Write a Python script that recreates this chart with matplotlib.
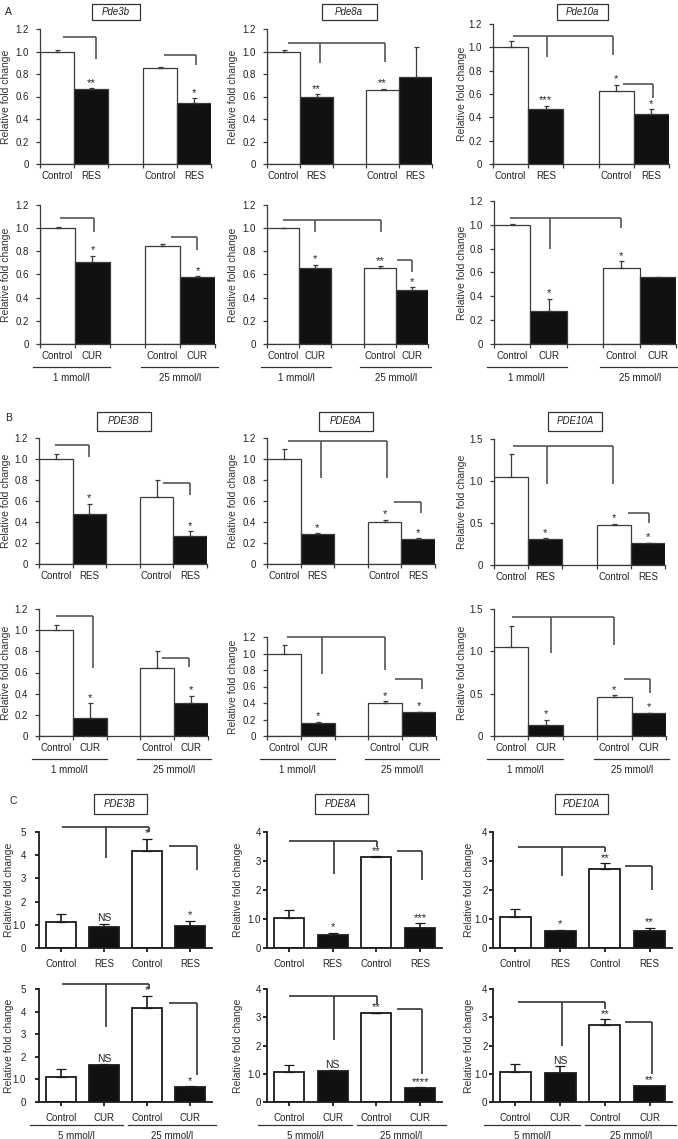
import matplotlib
matplotlib.use('Agg')
import numpy as np
import matplotlib.pyplot as plt
import matplotlib.transforms as mtransforms
from matplotlib.patches import Rectangle

plt.rcParams['font.family'] = ['Liberation Sans', 'DejaVu Sans']

W, H = 678, 1139
fig = plt.figure(figsize=(W/100, H/100), dpi=100)

# ---------------- data ----------------
GENES_A = ['Pde3b', 'Pde8a', 'Pde10a']
GENES_BC = ['PDE3B', 'PDE8A', 'PDE10A']

A_RES_MEAN = [[1.0, 0.67, 0.85, 0.54], [1.0, 0.60, 0.66, 0.77], [1.0, 0.47, 0.63, 0.43]]
A_RES_ERR = [[0.01, 0.005, 0.01, 0.045], [0.01, 0.02, 0.01, 0.27], [0.055, 0.03, 0.05, 0.04]]
A_RES_STARS = [['', '**', '', '*'], ['', '**', '**', ''], ['', '***', '*', '*']]
A_CUR_MEAN = [[1.0, 0.71, 0.85, 0.58], [1.0, 0.655, 0.66, 0.47], [1.0, 0.28, 0.635, 0.56]]
A_CUR_ERR = [[0.01, 0.05, 0.01, 0.005], [0.005, 0.03, 0.01, 0.02], [0.005, 0.10, 0.06, 0.005]]
A_CUR_STARS = [['', '*', '', '*'], ['', '*', '**', '*'], ['', '*', '*', '']]

B_RES_MEAN = [[1.0, 0.476, 0.64, 0.27], [1.0, 0.29, 0.40, 0.24], [1.05, 0.31, 0.476, 0.26]]
B_RES_ERR = [[0.05, 0.10, 0.16, 0.04], [0.10, 0.005, 0.02, 0.005], [0.27, 0.01, 0.015, 0.005]]
B_RES_STARS = [['', '*', '', '*'], ['', '*', '*', '*'], ['', '*', '*', '*']]
B_CUR_MEAN = [[1.0, 0.17, 0.64, 0.31], [1.0, 0.16, 0.40, 0.29], [1.05, 0.13, 0.46, 0.27]]
B_CUR_ERR = [[0.05, 0.14, 0.16, 0.07], [0.10, 0.01, 0.02, 0.005], [0.25, 0.06, 0.02, 0.005]]
B_CUR_STARS = [['', '*', '', '*'], ['', '*', '*', '*'], ['', '*', '*', '*']]

C_RES_MEAN = [[1.12, 0.90, 4.18, 0.95], [1.05, 0.45, 3.14, 0.69], [1.07, 0.59, 2.72, 0.59]]
C_RES_ERR = [[0.35, 0.14, 0.52, 0.22], [0.25, 0.07, 0.02, 0.17], [0.27, 0.04, 0.21, 0.10]]
C_RES_STARS = [['', 'NS', '*', '*'], ['', '*', '**', '***'], ['', '*', '**', '**']]
C_CUR_MEAN = [[1.12, 1.65, 4.18, 0.65], [1.05, 1.10, 3.14, 0.50], [1.07, 1.02, 2.72, 0.55]]
C_CUR_ERR = [[0.35, 0.02, 0.52, 0.05], [0.25, 0.02, 0.02, 0.03], [0.27, 0.25, 0.21, 0.03]]
C_CUR_STARS = [['', 'NS', '*', '*'], ['', 'NS', '**', '****'], ['', 'NS', '**', '**']]

# significance brackets: (x_start, x_end, y, [(leg_x, leg_y_end), ...])
A_RES_BR = [[(0.67, 1.63, 1.13, [(1.63, 0.93)]), (3.63, 4.56, 0.97, [(4.56, 0.88)])],
            [(0.64, 3.58, 1.075, [(1.6, 0.90), (3.58, 0.91)])],
            [(0.57, 3.41, 1.10, [(1.53, 0.92), (3.41, 0.93)]), (3.7, 4.55, 0.685, [(4.55, 0.57)])]]
A_CUR_BR = [[(0.57, 1.54, 1.09, [(1.54, 0.97)]), (3.74, 4.48, 0.92, [(4.48, 0.81)])],
            [(0.5, 3.54, 1.07, [(1.49, 0.97), (3.54, 0.97)]), (4.03, 4.5, 0.725, [(4.5, 0.62)])],
            [(0.44, 3.5, 1.06, [(1.53, 0.80), (3.5, 0.97)])]]
B_RES_BR = [[(0.47, 1.5, 1.13, [(1.5, 1.02)]), (3.7, 4.5, 0.77, [(4.5, 0.66)])],
            [(0.63, 3.57, 1.17, [(1.6, 0.82), (3.57, 0.82)]), (3.78, 4.58, 0.59, [(4.58, 0.49)])],
            [(0.56, 3.48, 1.42, [(1.55, 0.96), (3.48, 0.96)]), (3.92, 4.53, 0.62, [(4.53, 0.50)])]]
B_CUR_BR = [[(0.5, 1.6, 1.13, [(1.6, 0.64)]), (3.65, 4.45, 0.74, [(4.45, 0.65)])],
            [(0.59, 3.5, 1.2, [(1.63, 0.75), (3.5, 0.8)]), (3.8, 4.6, 0.69, [(4.6, 0.57)])],
            [(0.53, 3.48, 1.4, [(1.67, 0.98), (3.48, 1.07)]), (3.77, 4.53, 0.67, [(4.53, 0.51)])]]
C_RES_BR = [[(0.53, 2.55, 5.2, [(1.55, 3.88), (2.55, 5.0)]), (3.0, 3.65, 4.4, [(3.65, 3.36)])],
            [(0.5, 2.51, 3.69, [(1.53, 2.55), (2.51, 3.48)]), (2.97, 3.54, 3.34, [(3.54, 2.34)])],
            [(0.56, 2.5, 3.48, [(1.54, 2.48), (2.5, 3.3)]), (2.95, 3.55, 2.83, [(3.55, 2.0)])]]
C_CUR_BR = [[(0.53, 2.55, 5.2, [(1.55, 3.3), (2.55, 5.0)]), (3.0, 3.65, 4.4, [(3.65, 1.2)])],
            [(0.5, 2.51, 3.75, [(1.53, 2.2), (2.51, 3.48)]), (2.97, 3.54, 3.3, [(3.54, 1.0)])],
            [(0.56, 2.5, 3.55, [(1.54, 2.0), (2.5, 3.3)]), (2.95, 3.55, 2.83, [(3.55, 1.0)])]]

AB_GROUPS = [(-0.2, 2.0, '1 mmol/l'), (2.9, 5.1, '25 mmol/l')]
C_GROUPS = [(-0.2, 1.95, '5 mmol/l'), (2.05, 4.1, '25 mmol/l')]

# ---------------- layout (pixels: left, top, width, bottom) ----------------
RECT_A1 = [(40, 29, 171, 164), (267, 29, 165, 164), (493, 24, 176, 164)]
RECT_A2 = [(40, 205, 175, 344), (267, 205, 161, 344), (494, 201, 182, 344)]
RECT_B1 = [(39, 438, 168, 564), (267, 438, 168, 564), (494, 439, 171, 565)]
RECT_B2 = [(39, 609, 169, 736), (267, 637, 169, 736), (494, 609, 172, 736)]
RECT_C1 = [(39, 832, 173, 948), (267, 832, 175, 948), (493, 832, 179, 948)]
RECT_C2 = [(39, 989, 173, 1102), (267, 989, 175, 1102), (493, 989, 179, 1102)]

AB_POS = [0.5, 1.5, 3.5, 4.5]
C_POS = [0.5, 1.5, 2.5, 3.5]
BLACK = '#111111'


def fmt_tick(v):
    return '0' if v == 0 else ('%d' % v if float(v).is_integer() and v >= 2 else '%.1f' % v)


def draw_panel(rect, ymax, yticks, mean, err, stars, brackets, treat, style, groups=None,
               ylab_x=6, ypad=5):
    left, top, width, bottom = rect
    ax = fig.add_axes([left/W, 1-bottom/H, width/W, (bottom-top)/H])
    if style == 'ab':
        xs, bw, xmax = AB_POS, 1.0, 5
        edge, lw, brc, cap = '#3a3a3a', 0.9, '#555555', 1.8
    else:
        xs, bw, xmax = C_POS, 0.69, 4
        edge, lw, brc, cap = '#1a1a1a', 1.3, '#333333', 3.5
    colors = ['white', BLACK, 'white', BLACK]
    ax.bar(xs, mean, width=bw, color=colors, edgecolor=edge, linewidth=lw, zorder=2)
    ax.errorbar(xs, mean, yerr=[np.zeros(4), err], fmt='none', ecolor=edge,
                elinewidth=0.9 if style == 'ab' else 1.2, capsize=cap, capthick=0.9, zorder=3)
    for x, m, e, s in zip(xs, mean, err, stars):
        if s:
            ax.annotate(s, (x, m + e), xytext=(0, 0.3), textcoords='offset points',
                        ha='center', va='bottom', fontsize=8 if s != 'NS' else 7.5,
                        color='#222222', annotation_clip=False)
    for x0, x1, y, legs in brackets:
        ax.plot([x0, x1], [y, y], color=brc, lw=1.2, clip_on=False, zorder=4,
                solid_capstyle='butt')
        for lx, ly in legs:
            ax.plot([lx, lx], [y, ly], color=brc, lw=1.2, clip_on=False, zorder=4,
                    solid_capstyle='butt')
    ax.set_xlim(0, xmax)
    ax.set_ylim(0, ymax)
    ax.set_yticks(yticks)
    ax.set_yticklabels([fmt_tick(v) for v in yticks])
    for sp in ['top', 'right']:
        ax.spines[sp].set_visible(False)
    for sp in ['left', 'bottom']:
        ax.spines[sp].set_color(edge)
        ax.spines[sp].set_linewidth(lw)
    ax.tick_params(axis='y', direction='out', length=3, width=lw, color=edge,
                   labelsize=7, pad=ypad, labelcolor='#222222')
    ax.set_xticks(xs)
    ax.set_xticklabels(['Control', treat, 'Control', treat])
    if style == 'ab':
        ax.set_xticks(range(6), minor=True)
        ax.tick_params(axis='x', which='major', length=0, labelsize=7, pad=5,
                       labelcolor='#222222')
        ax.tick_params(axis='x', which='minor', direction='out', length=3, width=lw,
                       color=edge)
    else:
        ax.tick_params(axis='x', direction='out', length=3, width=lw, color=edge,
                       labelsize=7, pad=5, labelcolor='#222222')
    if groups:
        tline = mtransforms.offset_copy(ax.get_xaxis_transform(), fig=fig, y=-23, units='dots')
        ttext = mtransforms.offset_copy(ax.get_xaxis_transform(), fig=fig, y=-34, units='dots')
        for g0, g1, lab in groups:
            ax.plot([g0, g1], [0, 0], color='#333333', lw=0.9, transform=tline, clip_on=False)
            ax.text((g0 + g1) / 2, 0, lab, transform=ttext, ha='center', va='center',
                    fontsize=7, color='#222222')
    fig.text(ylab_x/W, 1 - (top + bottom) / 2 / H, 'Relative fold change', rotation=90,
             ha='center', va='center', fontsize=7.5, color='#333333')
    return ax


def title_box(cx, cy, w, h, label):
    fig.patches.append(Rectangle(((cx - w/2)/W, 1 - (cy + h/2)/H), w/W, h/H,
                                 transform=fig.transFigure, fill=False,
                                 edgecolor='#333333', lw=0.9))
    fig.text(cx/W, 1 - cy/H, label, ha='center', va='center', fontsize=7,
             style='italic', color='#222222')


YT12 = [0, 0.2, 0.4, 0.6, 0.8, 1.0, 1.2]
YT15 = [0, 0.5, 1.0, 1.5]
AB_YLAB = [6, 233, 462]
C_YLAB = [9, 238, 469]
C_YPAD = [6.5, 1.5, 1.0]

for i in range(3):
    draw_panel(RECT_A1[i], 1.2, YT12, A_RES_MEAN[i], A_RES_ERR[i], A_RES_STARS[i],
               A_RES_BR[i], 'RES', 'ab', ylab_x=AB_YLAB[i])
    draw_panel(RECT_A2[i], 1.2, YT12, A_CUR_MEAN[i], A_CUR_ERR[i], A_CUR_STARS[i],
               A_CUR_BR[i], 'CUR', 'ab', groups=AB_GROUPS, ylab_x=AB_YLAB[i])
    ymax_b = 1.5 if i == 2 else 1.2
    yt_b = YT15 if i == 2 else YT12
    draw_panel(RECT_B1[i], ymax_b, yt_b, B_RES_MEAN[i], B_RES_ERR[i], B_RES_STARS[i],
               B_RES_BR[i], 'RES', 'ab', ylab_x=AB_YLAB[i])
    draw_panel(RECT_B2[i], ymax_b, yt_b, B_CUR_MEAN[i], B_CUR_ERR[i], B_CUR_STARS[i],
               B_CUR_BR[i], 'CUR', 'ab', groups=AB_GROUPS, ylab_x=AB_YLAB[i])
    ymax_c = 5 if i == 0 else 4
    yt_c = list(range(ymax_c + 1))
    draw_panel(RECT_C1[i], ymax_c, yt_c, C_RES_MEAN[i], C_RES_ERR[i], C_RES_STARS[i],
               C_RES_BR[i], 'RES', 'c', ylab_x=C_YLAB[i], ypad=C_YPAD[i])
    draw_panel(RECT_C2[i], ymax_c, yt_c, C_CUR_MEAN[i], C_CUR_ERR[i], C_CUR_STARS[i],
               C_CUR_BR[i], 'CUR', 'c', groups=C_GROUPS, ylab_x=C_YLAB[i], ypad=C_YPAD[i])

for cx, w, lab in zip([116, 349, 582], [48, 55, 51], GENES_A):
    title_box(cx, 12, w, 16, lab)
for cx, lab in zip([124, 346, 575], GENES_BC):
    title_box(cx, 421, 54, 19, lab)
for cx, lab in zip([120, 341, 581], GENES_BC):
    title_box(cx, 804, 53, 20, lab)

fig.text(5/W, 1 - 12/H, 'A', ha='left', va='center', fontsize=7.5, color='#222222')
fig.text(5/W, 1 - 418/H, 'B', ha='left', va='center', fontsize=7.5, color='#222222')
fig.text(10/W, 1 - 801/H, 'C', ha='left', va='center', fontsize=7.5, color='#222222')

fig.savefig('out.png', dpi=100)
